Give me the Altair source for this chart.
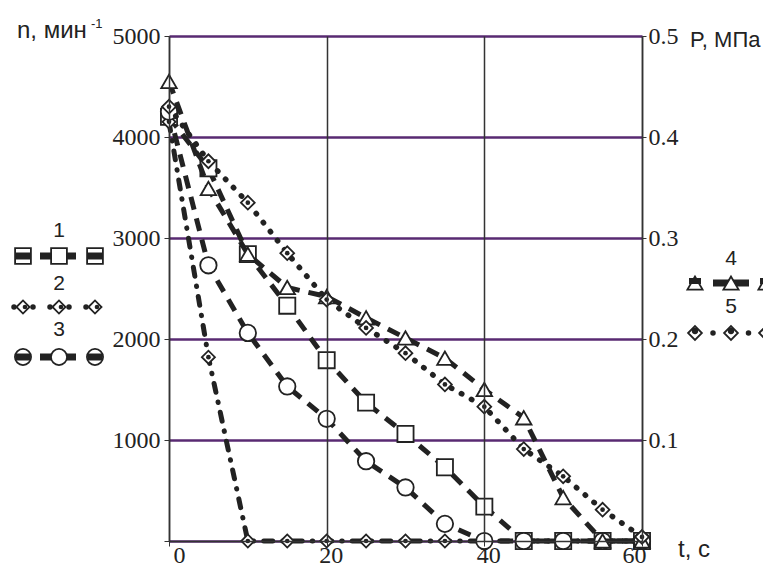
import altair as alt
import pandas as pd

# ---- data ----
t = [0, 5, 10, 15, 20, 25, 30, 35, 40, 45, 50, 55, 60]
n1 = [4200, 3690, 2840, 2330, 1790, 1370, 1060, 730, 340, 0, 0, 0, 0]          # 1, squares
n2 = [4150, 1820, 0, 0, 0, 0, 0, 0, 0, 0, 0, 0, 0]                             # 2, diamonds
n3 = [4250, 2730, 2060, 1530, 1210, 790, 530, 170, 0, 0, 0, 0, 0]               # 3, circles
p4 = [0.455, 0.349, 0.284, 0.251, 0.242, 0.221, 0.201, 0.181, 0.150, 0.122, 0.043, 0.0, 0.0]   # 4, triangles
p5 = [0.430, 0.376, 0.335, 0.285, 0.239, 0.211, 0.186, 0.155, 0.133, 0.091, 0.064, 0.031, 0.004]  # 5, diamonds

x_ticks = [0, 20, 40, 60]
n_ticks = [0, 1000, 2000, 3000, 4000, 5000]
p_ticks = [0, 0.1, 0.2, 0.3, 0.4, 0.5]
legend_left = ["1", "2", "3"]
legend_right = ["4", "5"]

INK = "#222222"
AX = "#333333"
PURPLE = "#582a72"
SERIF = "Liberation Serif"
SANS = "Liberation Sans"


def frame(vals):
    return pd.DataFrame({"t": t, "v": vals})


xenc = alt.X(
    "t:Q",
    scale=alt.Scale(domain=[0, 60], nice=False, zero=False),
    axis=alt.Axis(values=x_ticks, format="d", title=None, labelFont=SERIF,
                  labelFontSize=24, labelColor=INK, labelOffset=4, labelPadding=-3,
                  tickSize=5, tickColor=AX, domainColor=AX, domainWidth=1.5,
                  grid=True, gridColor=AX, gridWidth=1.5, zindex=1),
)

axis_n = alt.Axis(orient="left", values=n_ticks, format="d",
                  labelExpr="datum.value == 0 ? '' : datum.label", title=None,
                  labelFont=SERIF, labelFontSize=24, labelColor=INK, tickSize=5,
                  tickColor=AX, labelPadding=4, domainColor=AX, domainWidth=1.5,
                  grid=True, gridColor=PURPLE, gridWidth=2.5)
axis_p = alt.Axis(orient="right", values=p_ticks, format=".1f",
                  labelExpr="datum.value == 0 ? '' : datum.label", title=None,
                  labelFont=SERIF, labelFontSize=24, labelColor=INK, tickSize=4,
                  tickColor=AX, labelPadding=2, domainColor=AX, domainWidth=1.5,
                  grid=False)

yn = alt.Y("v:Q", scale=alt.Scale(domain=[0, 5000], nice=False), axis=axis_n)
yp = alt.Y("v:Q", scale=alt.Scale(domain=[0, 0.5], nice=False), axis=axis_p)

DASH = [13, 9]
DASHDOT = [9, 10, 0.5, 10]
DOT = [0.5, 11]

specs_n = [
    (n1, "square", 260, DASH, "butt", 5),
    (n2, "diamond", 170, DASHDOT, "round", 5),
    (n3, "circle", 270, DASH, "butt", 5),
]
specs_p = [
    (p4, "triangle-up", 240, DASH, "butt", 5),
    (p5, "diamond", 190, DOT, "round", 5.5),
]


def group(specs, y, dotted_idx):
    lines, pts = [], []
    for i, (vals, shape, size, dash, cap, w) in enumerate(specs):
        df = frame(vals)
        lines.append(alt.Chart(df).mark_line(color=INK, strokeWidth=w, strokeDash=dash,
                                             strokeCap=cap).encode(x=xenc, y=y))
        pts.append(alt.Chart(df).mark_point(shape=shape, size=size, filled=True, fill="white",
                                            stroke=INK, strokeWidth=1.8, opacity=1)
                   .encode(x=xenc, y=y))
        if i in dotted_idx:
            pts.append(alt.Chart(df).mark_circle(size=22, color=INK, opacity=1).encode(x=xenc, y=y))
    return alt.layer(*lines, *pts)


left = group(specs_n, yn, [1])
right = group(specs_p, yp, [1])

one = pd.DataFrame({"k": [0]})


def txt(s, x, y, size, font=SANS, align="left", baseline="alphabetic"):
    return alt.Chart(one).mark_text(text=s, font=font, fontSize=size, align=align,
                                    baseline=baseline, color=INK).encode(
        x=alt.value(x), y=alt.value(y))


def bar(x1, x2, y, w=7):
    return alt.Chart(one).mark_rule(color=INK, strokeWidth=w, strokeCap="butt").encode(
        x=alt.value(x1), x2=alt.value(x2), y=alt.value(y))


def sym(shape, x, y, size):
    return alt.Chart(one).mark_point(shape=shape, size=size, filled=True, fill="white",
                                     stroke=INK, strokeWidth=1.8, opacity=1).encode(
        x=alt.value(x), y=alt.value(y))


def dot(x, y, size=30):
    return alt.Chart(one).mark_circle(size=size, color=INK, opacity=1).encode(
        x=alt.value(x), y=alt.value(y))


leg = []
# left legend (1, 2, 3)
LX = [-146, -110, -74]
rows_l = [(220, 195, "square", 250, "dash"), (271, 248, "diamond", 170, "dot"),
          (321, 294, "circle", 260, "dash")]
for lab, (ry, ly, shape, size, kind) in zip(legend_left, rows_l):
    leg.append(txt(lab, LX[1], ly, 21, align="center", baseline="middle"))
    if kind == "dash":
        leg.append(bar(LX[1] - 19, LX[1] + 17, ry))
        for cx in LX:
            leg.append(sym(shape, cx, ry, size))
        leg.append(bar(LX[0] - 7, LX[0] + 7, ry))
        leg.append(bar(LX[2] - 7, LX[2] + 7, ry))
    else:
        for cx in LX:
            leg.append(dot(cx - 9, ry))
            if cx != LX[2]:
                leg.append(dot(cx + 10, ry))
            leg.append(sym(shape, cx, ry, size))
            leg.append(dot(cx + 2, ry, 22))

# right legend (4, 5)
RX = [526, 562, 597]
rows_r = [(247, 223, "triangle-up", 230, "dash"), (297, 271, "diamond", 190, "dot")]
for lab, (ry, ly, shape, size, kind) in zip(legend_right, rows_r):
    leg.append(txt(lab, RX[1], ly, 21, align="center", baseline="middle"))
    if kind == "dash":
        leg.append(bar(RX[1] - 18, RX[1] + 18, ry))
        for cx in RX:
            leg.append(sym(shape, cx, ry, size))
        leg.append(bar(RX[0] - 6, RX[0] + 6, ry - 2, 6))
        leg.append(bar(RX[2] - 6, RX[2] + 6, ry - 2, 6))
    else:
        for cx in RX:
            leg.append(sym(shape, cx, ry, size))
            leg.append(dot(cx, ry - 2, 40))
        leg.append(dot((RX[0] + RX[1]) / 2, ry, 30))
        leg.append(dot((RX[1] + RX[2]) / 2, ry, 30))

titles = [
    txt("n, мин", -152, 2, 24),
    txt("-1", -78, -8, 13),
    txt("P, МПа", 521, 11, 22),
    txt("t, c", 509, 521, 24),
]

chart = (
    alt.layer(left, right, *leg, *titles)
    .resolve_scale(y="independent")
    .properties(
        width=473,
        height=505,
        autosize=alt.AutoSizeParams(type="none"),
        padding={"left": 161, "top": 28, "right": 121, "bottom": 25},
    )
    .configure_view(stroke=None)
    .configure_axis(labelFont=SERIF)
    .configure(background="white")
)

chart.save("out.html", embed_options={"renderer": "svg", "actions": False})
